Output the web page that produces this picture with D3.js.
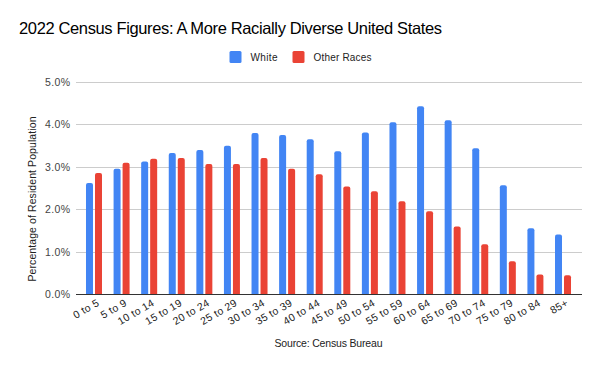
<!DOCTYPE html>
<html><head><meta charset="utf-8">
<script src="https://cdnjs.cloudflare.com/ajax/libs/d3/7.8.5/d3.min.js"></script>
<style>body{margin:0;background:#fff}svg{display:block;font-family:"Liberation Sans",Arial,sans-serif}</style>
</head><body><svg id="c" width="600" height="371"></svg>
<script>
const categories = ["0 to 5","5 to 9","10 to 14","15 to 19","20 to 24","25 to 29","30 to 34","35 to 39","40 to 44","45 to 49","50 to 54","55 to 59","60 to 64","65 to 69","70 to 74","75 to 79","80 to 84","85+"];
const white = [2.61,2.95,3.12,3.32,3.39,3.49,3.79,3.74,3.64,3.36,3.80,4.04,4.42,4.09,3.43,2.56,1.55,1.40];
const otherRaces = [2.85,3.09,3.18,3.20,3.06,3.06,3.20,2.95,2.82,2.53,2.42,2.18,1.95,1.59,1.17,0.77,0.46,0.44];
const yTicks = [0,1,2,3,4,5];
const seriesNames = ["White","Other Races"];
const colors = ["#4285f4","#ea4335"];

const svg = d3.select("#c");
const gridL = 76, gridR = 582;
const x = d3.scaleBand().domain(categories).range([80.2, 576.8]);
const y = d3.scaleLinear().domain([0,5]).range([294, 81.5]);
const bw = 7, gap = 2;

svg.append("text").attr("x",19).attr("y",34).attr("font-size",16.5).attr("fill","#000")
  .attr("textLength",423).attr("lengthAdjust","spacing")
  .text("2022 Census Figures: A More Racially Diverse United States");

// grid
svg.append("g").selectAll("line").data(yTicks.slice(1)).join("line")
  .attr("x1",gridL).attr("x2",gridR).attr("y1",d=>Math.round(y(d))+0.5).attr("y2",d=>Math.round(y(d))+0.5)
  .attr("stroke","#cccccc").attr("stroke-width",1);
svg.append("g").selectAll("text").data(yTicks).join("text")
  .attr("x",70.5).attr("y",d=>y(d)+4).attr("text-anchor","end").attr("font-size",10.5)
  .attr("letter-spacing",0.4).attr("fill","#444").text(d=>d.toFixed(1)+"%");

function barPath(x0,y0,w,h,r){
  r=Math.min(r,h);
  return `M${x0},${y0+h}V${y0+r}Q${x0},${y0} ${x0+r},${y0}H${x0+w-r}Q${x0+w},${y0} ${x0+w},${y0+r}V${y0+h}Z`;
}
const series=[white,otherRaces];
series.forEach((vals,si)=>{
  svg.append("g").selectAll("path").data(categories).join("path")
    .attr("d",(c,i)=>{
      const cx = x(c)+x.bandwidth()/2;
      const x0 = si===0 ? cx-gap/2-bw : cx+gap/2;
      const top=y(vals[i]);
      return barPath(x0,top,bw,y(0)-top,2);
    }).attr("fill",colors[si]);
});
// baseline
svg.append("line").attr("x1",gridL).attr("x2",gridR).attr("y1",294.5).attr("y2",294.5).attr("stroke","#333").attr("stroke-width",1);

// x labels
svg.append("g").selectAll("text").data(categories).join("text")
  .attr("transform",c=>`translate(${x(c)+x.bandwidth()/2+6},${305}) rotate(-30)`)
  .attr("text-anchor","end").attr("font-size",10.5).attr("letter-spacing",0.3).attr("fill","#222").text(c=>c);

// y title
svg.append("text").attr("transform","translate(35.5,199) rotate(-90)").attr("text-anchor","middle")
  .attr("font-size",10.5).attr("textLength",165).attr("lengthAdjust","spacing")
  .attr("fill","#222").text("Percentage of Resident Population");

// source
svg.append("text").attr("x",328.5).attr("y",347).attr("text-anchor","middle").attr("font-size",10.5)
  .attr("textLength",108).attr("lengthAdjust","spacing")
  .attr("fill","#222").text("Source: Census Bureau");

// legend
const lx=[229.5,292.5];
const lw=[27,58];
seriesNames.forEach((n,i)=>{
  svg.append("rect").attr("x",lx[i]).attr("y",51).attr("width",12).attr("height",12).attr("rx",1.5).attr("fill",colors[i]);
  svg.append("text").attr("x",lx[i]+21).attr("y",60.5).attr("font-size",10)
    .attr("textLength",lw[i]).attr("lengthAdjust","spacing")
    .attr("fill","#222").text(n);
});
</script></body></html>
